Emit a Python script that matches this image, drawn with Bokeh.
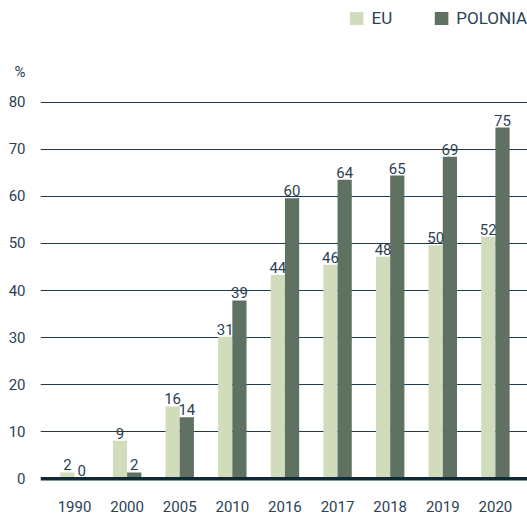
from bokeh.plotting import figure
from bokeh.models import ColumnDataSource, Range1d, FixedTicker, Span, Legend, LegendItem
from bokeh.embed import file_html
from bokeh.resources import INLINE
from bokeh.core.properties import value

years = ["1990", "2000", "2005", "2010", "2016", "2017", "2018", "2019", "2020"]
eu_values = [1.4, 8.1, 15.4, 30.2, 43.3, 45.5, 47.2, 49.6, 51.4]
pl_values = [0.2, 1.4, 13.1, 37.9, 59.6, 63.5, 64.4, 68.4, 74.6]
eu_labels = ["2", "9", "16", "31", "44", "46", "48", "50", "52"]
pl_labels = ["0", "2", "14", "39", "60", "64", "65", "69", "75"]
y_ticks = [0, 10, 20, 30, 40, 50, 60, 70, 80]

EU_COLOR = "#d0dcbc"
PL_COLOR = "#5f7262"
TEXT_COLOR = "#2b4255"
FONT = "Roboto"

idx = list(range(len(years)))
bar_w = 0.27
src = ColumnDataSource(dict(
    x_eu=[i - bar_w / 2 for i in idx],
    x_pl=[i + bar_w / 2 for i in idx],
    eu=eu_values, pl=pl_values,
    eu_lab=eu_labels, pl_lab=pl_labels,
))

p = figure(width=527, height=514, output_backend="svg", toolbar_location=None,
           x_range=Range1d(-0.646, 8.61), y_range=Range1d(-0.32, 99.87),
           min_border_left=40, min_border_right=0, min_border_top=8, min_border_bottom=32)
p.outline_line_color = None
p.background_fill_color = "white"
p.border_fill_color = "white"

r_eu = p.vbar(x="x_eu", top="eu", width=bar_w, bottom=0, source=src,
              fill_color=EU_COLOR, line_color=None)
r_pl = p.vbar(x="x_pl", top="pl", width=bar_w, bottom=0, source=src,
              fill_color=PL_COLOR, line_color=None)

for xcol, ycol, lcol in (("x_eu", "eu", "eu_lab"), ("x_pl", "pl", "pl_lab")):
    p.text(x=xcol, y=ycol, text=lcol, source=src, text_align="center",
           text_baseline="bottom", y_offset=-2, text_font=value(FONT),
           text_font_size="15px", text_color=TEXT_COLOR)

p.add_layout(Span(location=0, dimension="width", line_color="#0e2a3a", line_width=4))

# grid
p.xgrid.grid_line_color = None
p.ygrid.ticker = FixedTicker(ticks=y_ticks[1:])
p.ygrid.grid_line_color = "#22394b"
p.ygrid.grid_line_width = 1

# axes
pct_pos = 86.3
p.yaxis.ticker = FixedTicker(ticks=y_ticks + [pct_pos])
p.yaxis.major_label_overrides = {pct_pos: "%"}
p.yaxis.axis_line_color = None
p.yaxis.major_tick_line_color = None
p.yaxis.minor_tick_line_color = None
p.yaxis.major_label_standoff = 9
p.yaxis.major_label_text_font = FONT
p.yaxis.major_label_text_font_size = "15px"
p.yaxis.major_label_text_color = TEXT_COLOR

p.xaxis.ticker = FixedTicker(ticks=idx)
p.xaxis.major_label_overrides = {i: y for i, y in zip(idx, years)}
p.xaxis.axis_line_color = None
p.xaxis.major_tick_line_color = None
p.xaxis.minor_tick_line_color = None
p.xaxis.major_label_standoff = 14
p.xaxis.major_label_text_font = FONT
p.xaxis.major_label_text_font_size = "15px"
p.xaxis.major_label_text_color = TEXT_COLOR

legend = Legend(items=[LegendItem(label="EU", renderers=[r_eu]),
                       LegendItem(label="POLONIA", renderers=[r_pl])],
                location="top_right", orientation="horizontal")
legend.border_line_color = None
legend.background_fill_alpha = 0
legend.margin = 0
legend.padding = 3
legend.spacing = 40
legend.glyph_width = 17
legend.glyph_height = 16
legend.label_standoff = 7
legend.label_text_font = FONT
legend.label_text_font_size = "17px"
legend.label_text_color = TEXT_COLOR
p.add_layout(legend)

open("out.html", "w").write(file_html(p, INLINE))
